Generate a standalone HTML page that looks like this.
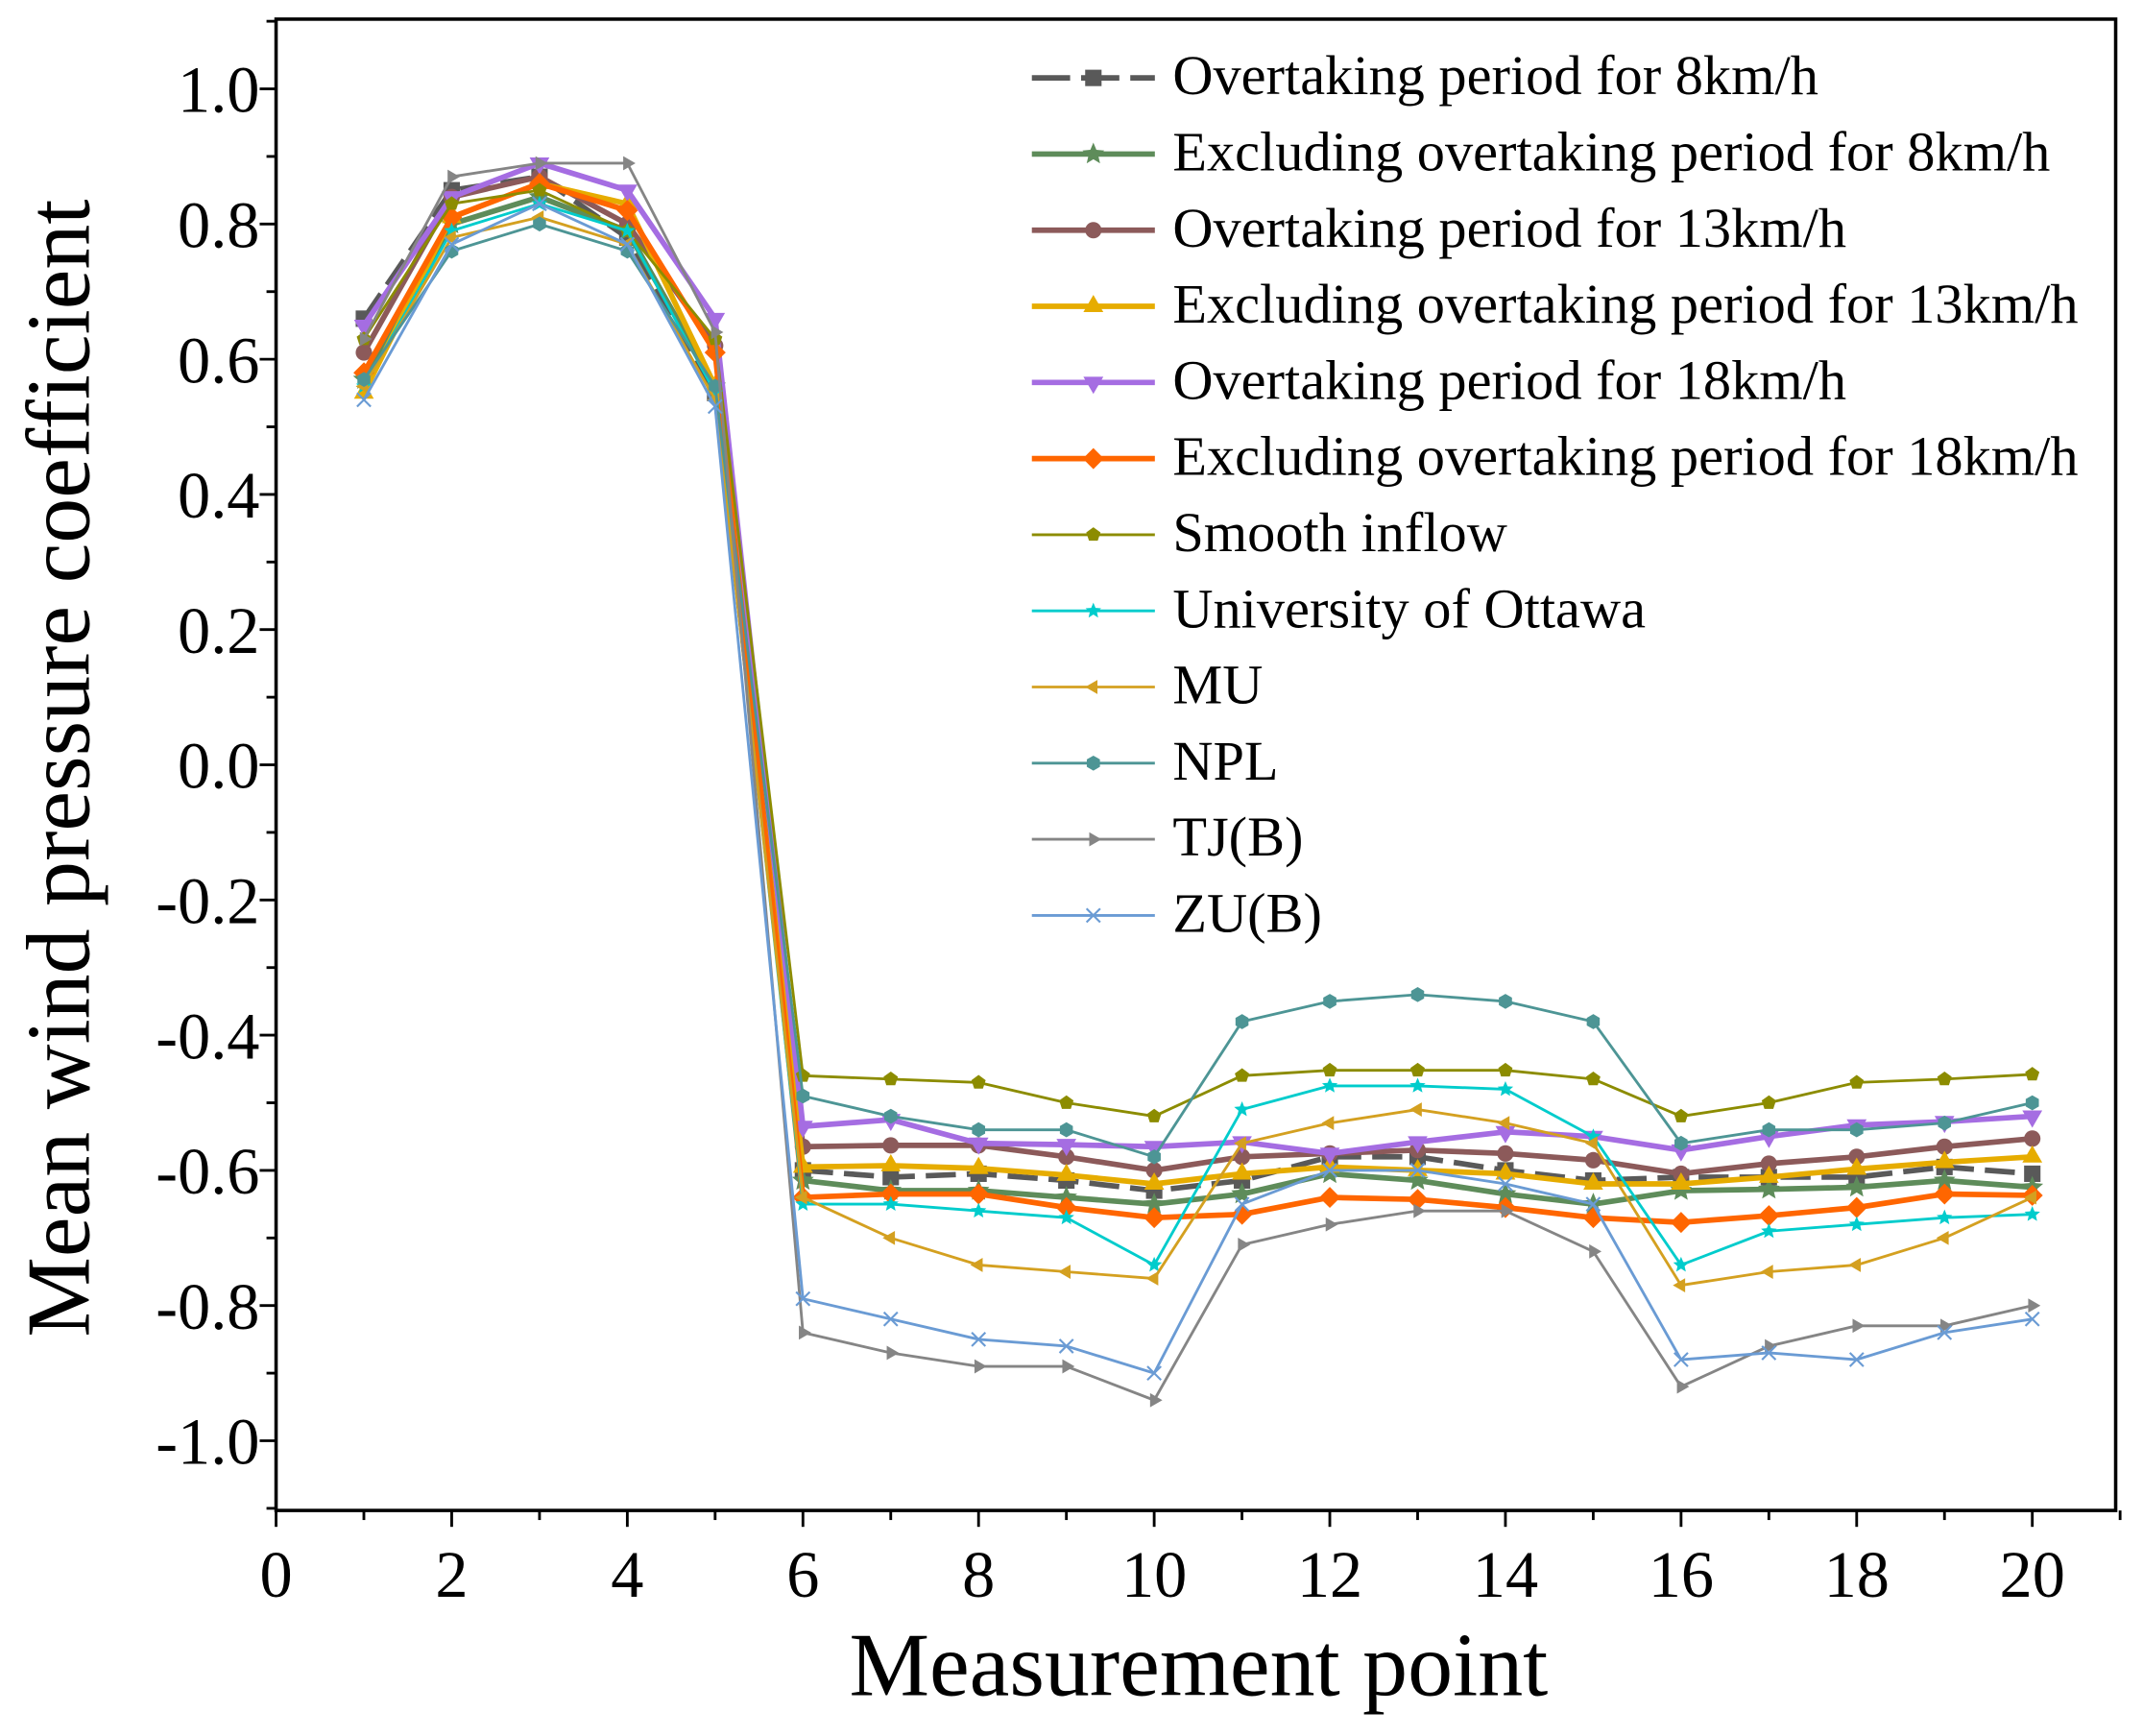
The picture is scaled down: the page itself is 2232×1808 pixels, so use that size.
<!DOCTYPE html>
<html><head><meta charset="utf-8"><style>
html,body{margin:0;padding:0;background:#fff}
svg{display:block}
text{font-family:"Liberation Serif",serif;fill:#000}
</style></head><body>
<svg id="chart" width="2232" height="1808" viewBox="0 0 1568 1270" preserveAspectRatio="none">
<g id="grid"></g>
<g id="series"></g>
<g id="legend"></g>
<rect x="202" y="14" width="1346" height="1091" fill="none" stroke="#000" stroke-width="2.5"/>
<text x="877" y="1240" font-size="66" text-anchor="middle">Measurement point</text>
<text transform="translate(65,562) rotate(-90)" font-size="66" text-anchor="middle">Mean wind pressure coefficient</text>
</svg>
<script>
const points = [1,2,3,4,5,6,7,8,9,10,11,12,13,14,15,16,17,18,19,20];
const xTicks = [0,2,4,6,8,10,12,14,16,18,20];
const yTicks = [-1.0,-0.8,-0.6,-0.4,-0.2,0.0,0.2,0.4,0.6,0.8,1.0];
const seriesNames = ["Overtaking period for 8km/h","Excluding overtaking period for 8km/h","Overtaking period for 13km/h","Excluding overtaking period for 13km/h","Overtaking period for 18km/h","Excluding overtaking period for 18km/h","Smooth inflow","University of Ottawa","MU","NPL","TJ(B)","ZU(B)"];
const s1 = [0.66,0.85,0.87,0.78,0.55,-0.6,-0.61,-0.605,-0.615,-0.63,-0.615,-0.58,-0.58,-0.6,-0.615,-0.61,-0.61,-0.61,-0.595,-0.605];
const s2 = [0.57,0.80,0.84,0.79,0.56,-0.615,-0.63,-0.63,-0.64,-0.65,-0.635,-0.605,-0.615,-0.635,-0.65,-0.63,-0.628,-0.625,-0.615,-0.625];
const s3 = [0.61,0.84,0.87,0.80,0.62,-0.565,-0.563,-0.563,-0.58,-0.6,-0.58,-0.575,-0.57,-0.575,-0.585,-0.605,-0.59,-0.58,-0.565,-0.553];
const s4 = [0.55,0.81,0.86,0.83,0.56,-0.595,-0.593,-0.597,-0.607,-0.62,-0.605,-0.595,-0.6,-0.605,-0.62,-0.62,-0.61,-0.598,-0.588,-0.58];
const s5 = [0.65,0.84,0.89,0.85,0.66,-0.535,-0.525,-0.56,-0.562,-0.565,-0.558,-0.575,-0.558,-0.543,-0.55,-0.57,-0.55,-0.533,-0.528,-0.52];
const s6 = [0.58,0.81,0.86,0.82,0.61,-0.64,-0.635,-0.635,-0.655,-0.67,-0.665,-0.64,-0.643,-0.655,-0.67,-0.677,-0.667,-0.655,-0.635,-0.637];
const s7 = [0.63,0.83,0.85,0.79,0.63,-0.46,-0.465,-0.47,-0.5,-0.52,-0.46,-0.452,-0.452,-0.452,-0.465,-0.52,-0.5,-0.47,-0.465,-0.458];
const s8 = [0.56,0.79,0.83,0.79,0.55,-0.65,-0.65,-0.66,-0.67,-0.74,-0.51,-0.475,-0.475,-0.48,-0.55,-0.74,-0.69,-0.68,-0.67,-0.665];
const s9 = [0.56,0.78,0.81,0.77,0.54,-0.64,-0.70,-0.74,-0.75,-0.76,-0.56,-0.53,-0.51,-0.53,-0.56,-0.77,-0.75,-0.74,-0.70,-0.64];
const s10 = [0.57,0.76,0.80,0.76,0.56,-0.49,-0.52,-0.54,-0.54,-0.58,-0.38,-0.35,-0.34,-0.35,-0.38,-0.56,-0.54,-0.54,-0.53,-0.50];
const s11 = [0.63,0.87,0.89,0.89,0.64,-0.84,-0.87,-0.89,-0.89,-0.94,-0.71,-0.68,-0.66,-0.66,-0.72,-0.92,-0.86,-0.83,-0.83,-0.80];
const s12 = [0.54,0.77,0.83,0.77,0.53,-0.79,-0.82,-0.85,-0.86,-0.90,-0.65,-0.60,-0.60,-0.62,-0.65,-0.88,-0.87,-0.88,-0.84,-0.82];
const allSeries = [s1,s2,s3,s4,s5,s6,s7,s8,s9,s10,s11,s12];
const styles = [
 {c:"#595959",w:4,m:"square",dash:"22,8",ms:6},
 {c:"#5e8c5a",w:4,m:"star",ms:7},
 {c:"#8c5a5a",w:4,m:"circle",ms:6},
 {c:"#e6ac00",w:4,m:"up",ms:7},
 {c:"#a56de2",w:4,m:"down",ms:7},
 {c:"#ff6600",w:4,m:"diamond",ms:7},
 {c:"#8c8c00",w:2,m:"pent",ms:5},
 {c:"#00cccc",w:2,m:"star",ms:5},
 {c:"#d4a020",w:2,m:"left",ms:5},
 {c:"#4d9595",w:2,m:"hex",ms:5},
 {c:"#858585",w:2,m:"right",ms:5},
 {c:"#6a9bd4",w:2,m:"x",ms:5}
];
const X = v => 202 + v*64.25;
const Y = v => 559.5 - v*494.5;
const NS="http://www.w3.org/2000/svg";
function mk(tag,attrs,parent){const e=document.createElementNS(NS,tag);for(const k in attrs)e.setAttribute(k,attrs[k]);parent.appendChild(e);return e;}
function poly(n,r,rot,cx,cy,inner){let p=[];const k=inner?n*2:n;for(let i=0;i<k;i++){const a=rot+i*2*Math.PI/k;const rr=inner&&i%2?r*inner:r;p.push((cx+rr*Math.sin(a)).toFixed(1)+","+(cy-rr*Math.cos(a)).toFixed(1));}return p.join(" ");}
function marker(type,cx,cy,s,c,parent){
 let e;
 if(type==="square")e=mk("rect",{x:cx-s,y:cy-s,width:2*s,height:2*s,fill:c},parent);
 else if(type==="circle")e=mk("circle",{cx:cx,cy:cy,r:s,fill:c},parent);
 else if(type==="star")e=mk("polygon",{points:poly(5,s*1.2,0,cx,cy,0.45),fill:c},parent);
 else if(type==="up")e=mk("polygon",{points:poly(3,s*1.2,0,cx,cy),fill:c},parent);
 else if(type==="down")e=mk("polygon",{points:poly(3,s*1.2,Math.PI,cx,cy),fill:c},parent);
 else if(type==="left")e=mk("polygon",{points:poly(3,s*1.2,-Math.PI/2,cx,cy),fill:c},parent);
 else if(type==="right")e=mk("polygon",{points:poly(3,s*1.2,Math.PI/2,cx,cy),fill:c},parent);
 else if(type==="diamond")e=mk("polygon",{points:poly(4,s*1.1,0,cx,cy),fill:c},parent);
 else if(type==="pent")e=mk("polygon",{points:poly(5,s*1.1,0,cx,cy),fill:c},parent);
 else if(type==="hex")e=mk("polygon",{points:poly(6,s*1.1,0,cx,cy),fill:c},parent);
 else if(type==="x")e=mk("path",{d:`M${cx-s},${cy-s}L${cx+s},${cy+s}M${cx-s},${cy+s}L${cx+s},${cy-s}`,stroke:c,"stroke-width":1.5,fill:"none"},parent);
 return e;
}
const grid=document.getElementById("grid");
for(let v=0;v<=21;v++){const big=v%2===0;const t=mk("line",{x1:X(v),x2:X(v),y1:1105,y2:1105+(big?12:7),stroke:"#000","stroke-width":2},grid);

}
xTicks.forEach(v=>{const t=mk("text",{x:X(v),y:1168,"font-size":48,"text-anchor":"middle"},grid);t.textContent=v;

});
for(let i=-11;i<=11;i++){const v=i/10;const big=i%2===0;const t=mk("line",{x1:202,x2:202-(big?12:7),y1:Y(v),y2:Y(v),stroke:"#000","stroke-width":2},grid);

}
yTicks.forEach(v=>{const t=mk("text",{x:190,y:Y(v)+17,"font-size":48,"text-anchor":"end"},grid);t.textContent=v.toFixed(1);

});
const sg=document.getElementById("series");
allSeries.forEach((d,i)=>{
 const st=styles[i];
 const g=mk("g",{},sg);
 
 
 const pl=mk("polyline",{points:d.map((v,j)=>X(points[j])+","+Y(v)).join(" "),fill:"none",stroke:st.c,"stroke-width":st.w,"stroke-linejoin":"round"},g);
 if(st.dash)pl.setAttribute("stroke-dasharray",st.dash);
 
 
 d.forEach((v,j)=>{const m=marker(st.m,X(points[j]),Y(v),st.ms,st.c,g);
 
 });
});
const lg=document.getElementById("legend");
seriesNames.forEach((n,i)=>{
 const st=styles[i];const y=57+i*55.7;
 const g=mk("g",{},lg);
 
 
 const l=mk("line",{x1:755,x2:845,y1:y,y2:y,stroke:st.c,"stroke-width":st.w},g);
 if(st.dash)l.setAttribute("stroke-dasharray","28,8");
 marker(st.m,800,y,st.ms,st.c,g);
 const t=mk("text",{x:858,y:y+12,"font-size":34,"textLength":n.length>30?667*(n.length/41):null},g);
 t.removeAttribute("textLength");
 t.setAttribute("font-size","41");
 t.textContent=n;
});
</script>
</body></html>
